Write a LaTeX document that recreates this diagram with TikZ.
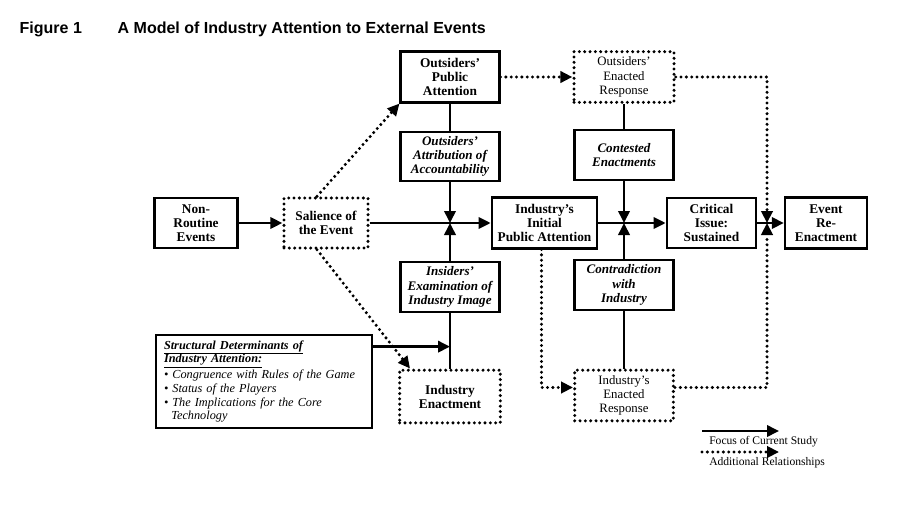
\documentclass[tikz,border=0pt]{standalone}
\usepackage{fontspec}
\setmainfont{Liberation Serif}
\newfontfamily\headfont{Liberation Sans}
\usetikzlibrary{arrows.meta,positioning,calc}

\begin{document}
\begin{tikzpicture}[
        x=0.75pt,y=-0.75pt,
        box/.style={draw,line width=1.8pt,align=center,inner sep=1pt,font=\fontsize{10}{10.6}\selectfont\bfseries},
        ibox/.style={box,font=\fontsize{9.8}{10.6}\selectfont\bfseries\itshape},
        dbox/.style={box,dash pattern=on 0pt off 4pt,line cap=round,line width=2.5pt},
        rbox/.style={dbox,font=\fontsize{9.6}{10.6}\selectfont},
        arrow/.style={-{Triangle[length=9pt,width=8.5pt]},line width=1.9pt},
        dotarrow/.style={arrow,dash pattern=on 0pt off 4pt,line cap=round,line width=2.5pt}
    ]
        \useasboundingbox (0,0) rectangle (907,507);

        % Title
        \node[anchor=west,font=\headfont\bfseries\fontsize{12}{14}\selectfont] (fig) at (15,29) {Figure 1};
        \node[anchor=west,font=\headfont\bfseries\fontsize{12}{14}\selectfont] (title) at (113,29) {A Model of Industry Attention to External Events};

        % Main row
        \node[box,minimum width=62pt,minimum height=37.5pt] (nonroutine) at (196,223) {Non-\\Routine\\Events};
        \node[dbox,minimum width=63pt,minimum height=37.5pt] (salience) at (326,223) {Salience of\\the Event};
        \node[box,minimum width=79pt,minimum height=38pt] (initial) at (544.5,223) {Industry's\\Initial\\Public Attention};
        \node[box,minimum width=67pt,minimum height=37.5pt] (critical) at (711.5,223) {Critical\\Issue:\\Sustained};
        \node[box,minimum width=61.5pt,minimum height=38pt] (event) at (826,223) {Event\\Re-\\Enactment};

        % Outsiders' column
        \node[box,minimum width=74pt,minimum height=38pt] (outpub) at (450,77) {Outsiders'\\Public\\Attention};
        \node[ibox,minimum width=74pt,minimum height=37pt] (attrib) at (450,156.5) {Outsiders'\\Attribution of\\Accountability};
        \node[ibox,minimum width=74pt,minimum height=37.5pt] (insiders) at (450,287) {Insiders'\\Examination of\\Industry Image};
        \node[dbox,minimum width=75.5pt,minimum height=39.5pt] (indenact) at (450,396.5) {Industry\\Enactment};

        % Response column
        \node[rbox,minimum width=75pt,minimum height=38pt] (outenact) at (624,77) {Outsiders'\\Enacted\\Response};
        \node[ibox,minimum width=74pt,minimum height=37.5pt] (contested) at (624,155) {Contested\\Enactments};
        \node[ibox,minimum width=74pt,minimum height=37.5pt] (contra) at (624,285) {Contradiction\\with\\Industry};
        \node[rbox,minimum width=74pt,minimum height=38pt] (indresp) at (624,395.5) {Industry's\\Enacted\\Response};

        % Structural determinants
        \node[draw,line width=1.8pt,align=left,text width=150pt,inner xsep=6pt,minimum height=70pt,font=\fontsize{9.2}{10.4}\selectfont\itshape] (struct) at (264,381.5)
            {{\bfseries\underline{Structural Determinants of}}\\{\bfseries\underline{Industry Attention:}}\\\textbullet\ Congruence with Rules of the Game\\\textbullet\ Status of the Players\\\textbullet\ The Implications for the Core\\\hspace*{0.6em}Technology};

        % Junctions
        \coordinate (jA) at (attrib.south |- initial.west);
        \coordinate (jB) at (contested.south |- initial.west);
        \coordinate (jC) at (767,223);
        \coordinate (sd) at ($(struct.north east)+(0,13)$);

        % Focus arrows
        \draw[arrow] (nonroutine.east) -- (salience.west);
        \draw[arrow] (salience.east) -- (initial.west);
        \draw[arrow] (initial.east) -- (critical.west);
        \draw[arrow] (critical.east) -- (event.west);
        \draw[line width=1.9pt] (outpub) -- (attrib);
        \draw[arrow] (attrib) -- (jA);
        \draw[line width=1.9pt] (indenact) -- (insiders);
        \draw[arrow] (insiders) -- (jA);
        \draw[line width=1.9pt] (outenact) -- (contested);
        \draw[arrow] (contested) -- (jB);
        \draw[line width=1.9pt] (indresp) -- (contra);
        \draw[arrow] (contra) -- (jB);
        \draw[arrow] (sd) -- (sd -| insiders.south);

        % Additional relationships
        \draw[dotarrow] ($(salience.north)+(-9,0)$) -- (outpub.south west);
        \draw[dotarrow] ($(salience.south)+(-9,0)$) -- ($(indenact.north west)+(12,0)$);
        \draw[dotarrow] (outpub) -- (outenact);
        \draw[dotarrow] (outenact.east) -| (jC);
        \draw[dotarrow] ($(indresp.east)+(0,-8)$) -| (jC);
        \draw[dotarrow] ($(initial.south)+(-3,0)$) |- ($(indresp.west)+(0,-8)$);

        % Legend
        \coordinate (focA) at (702,431);
        \coordinate (focB) at (779,431);
        \coordinate (addA) at (702,452);
        \coordinate (addB) at (779,452);
        \draw[arrow] (focA) -- (focB);
        \node[anchor=west,inner sep=0pt,font=\fontsize{8.7}{10}\selectfont] (focus) at (709,442) {Focus of Current Study};
        \draw[dotarrow] (addA) -- (addB);
        \node[anchor=west,inner sep=0pt,font=\fontsize{8.7}{10}\selectfont] (addrel) at (709,463) {Additional Relationships};
    \end{tikzpicture}
\end{document}
